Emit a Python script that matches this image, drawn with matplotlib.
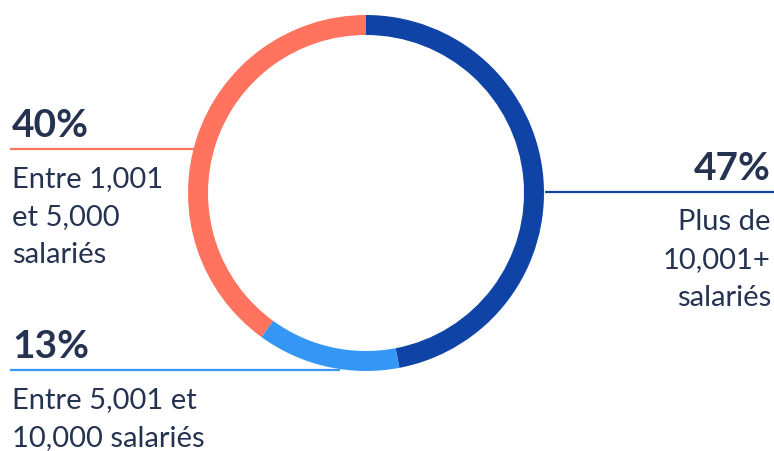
import matplotlib.pyplot as plt

# data
segments = ["Plus de 10,001+ salariés", "Entre 5,001 et 10,000 salariés", "Entre 1,001 et 5,000 salariés"]
shares = [47, 13, 40]
colors = ["#0f44a6", "#3497f5", "#ff735f"]
pct_labels = ["47%", "13%", "40%"]
label_lines = [["Plus de", "10,001+", "salariés"],
               ["Entre 5,001 et", "10,000 salariés"],
               ["Entre 1,001", "et 5,000", "salariés"]]

W, H = 774, 452
text_col = "#253351"
plt.rcParams['font.family'] = ['Lato', 'DejaVu Sans']

fig = plt.figure(figsize=(W / 100, H / 100), dpi=100)
ax = fig.add_axes([0, 0, 1, 1])

def Y(y):
    return H - y

cx, cy, R = 366, 194, 178
ax.pie(shares, colors=colors, startangle=90, counterclock=False,
       center=(cx, Y(cy)), radius=R, frame=True,
       wedgeprops=dict(width=20, linewidth=0))
ax.set_xlim(0, W)
ax.set_ylim(0, H)
ax.set_aspect('equal')
ax.axis('off')

# label layout: (line y, line x0, line x1, text x, align)
layout = [(193, 545, 774, 771, 'right'),
          (371, 10, 340, 12, 'left'),
          (150, 10, 194, 12, 'left')]

for i, (ly, x0, x1, tx, ha) in enumerate(layout):
    ax.plot([x0, x1], [Y(ly), Y(ly)], color=colors[i], lw=1.6, zorder=0,
            solid_capstyle='butt')
    ax.text(tx, Y(ly - 13), pct_labels[i], ha=ha, va='baseline',
            fontsize=28, fontweight='bold', color=text_col)
    for j, line in enumerate(label_lines[i]):
        ax.text(tx, Y(ly + 37 + j * 38), line, ha=ha, va='baseline',
                fontsize=21, color=text_col)

fig.savefig("out.png", dpi=100)
